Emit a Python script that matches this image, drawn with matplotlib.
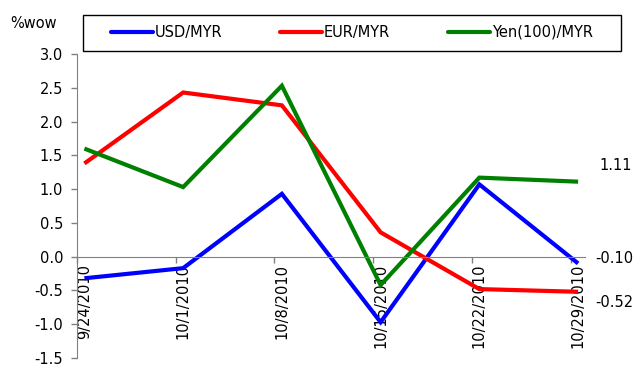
import matplotlib
matplotlib.use("Agg")
import matplotlib.pyplot as plt
from matplotlib.lines import Line2D
from matplotlib.patches import Rectangle
from matplotlib.ticker import FixedLocator, FormatStrFormatter

# Weekly % change of the ringgit against major currencies
dates = ["9/24/2010", "10/1/2010", "10/8/2010", "10/15/2010", "10/22/2010", "10/29/2010"]
usd_myr = [-0.32, -0.17, 0.93, -0.97, 1.07, -0.10]
eur_myr = [1.38, 2.43, 2.24, 0.36, -0.48, -0.52]
yen_myr = [1.60, 1.03, 2.53, -0.42, 1.17, 1.11]
series_names = ["USD/MYR", "EUR/MYR", "Yen(100)/MYR"]
series_colors = ["#0000ff", "#ff0000", "#008000"]
# pixel offsets for the end-of-line value labels
end_label_offsets = [(17, 5), (17, -11), (21, 16)]

plt.rcParams["font.family"] = ["DejaVu Sans"]
FS = 10.5
W, H = 640, 368

fig = plt.figure(figsize=(6.4, 3.68), dpi=100)
ax = fig.add_axes([77 / W, 10 / H, (585 - 77) / W, (358 - 54) / H])

x = list(range(len(dates)))
all_series = [usd_myr, eur_myr, yen_myr]
for vals, name, col in zip(all_series, series_names, series_colors):
    ax.plot(x, vals, color=col, lw=3, label=name, solid_capstyle="butt",
            solid_joinstyle="miter")

# value labels at the last week
for vals, col, (dx, dy) in zip(all_series, series_colors, end_label_offsets):
    ax.annotate(f"{vals[-1]:.2f}", xy=(x[-1], vals[-1]), xycoords="data",
                xytext=(dx, dy), textcoords="offset pixels",
                ha="left", va="center", fontsize=FS, color="black",
                annotation_clip=False)

ax.set_xlim(-0.07, len(dates) - 1 + 0.07)
ax.set_ylim(-1.5, 3.0)

grey = "#808080"
for s in ("top", "right"):
    ax.spines[s].set_visible(False)
ax.spines["left"].set_color(grey)
ax.spines["bottom"].set_color(grey)
ax.spines["bottom"].set_position(("data", 0))

ax.yaxis.set_major_locator(FixedLocator([-1.5 + 0.5 * i for i in range(10)]))
ax.yaxis.set_major_formatter(FormatStrFormatter("%.1f"))
ax.tick_params(axis="y", direction="out", length=4, width=1, color=grey,
               labelsize=FS, pad=6)

ax.set_xticks(x)
ax.set_xticklabels(dates, rotation=90, fontsize=FS, va="top")
ax.set_xticks([i - 0.075 for i in x], minor=True)
ax.tick_params(axis="x", which="major", length=0, pad=5)
ax.tick_params(axis="x", which="minor", direction="out", length=4, width=1, color=grey)

fig.text(10 / W, 1 - 23 / H, "%wow", fontsize=FS, ha="left", va="center")

# legend box across the top
box_l, box_r, box_t, box_b = 83, 621, 15, 51
fig.add_artist(Rectangle((box_l / W, 1 - box_b / H), (box_r - box_l) / W,
                         (box_b - box_t) / H, transform=fig.transFigure,
                         facecolor="white", edgecolor="black", lw=1))
entry_x = [111, 280, 448]
ly = 1 - 32 / H
for ex, name, col in zip(entry_x, series_names, series_colors):
    fig.add_artist(Line2D([ex / W, (ex + 42) / W], [ly, ly], transform=fig.transFigure,
                          color=col, lw=3, solid_capstyle="round"))
    fig.text((ex + 44) / W, ly, name, fontsize=FS, ha="left", va="center")

fig.savefig("out.png", dpi=100)
